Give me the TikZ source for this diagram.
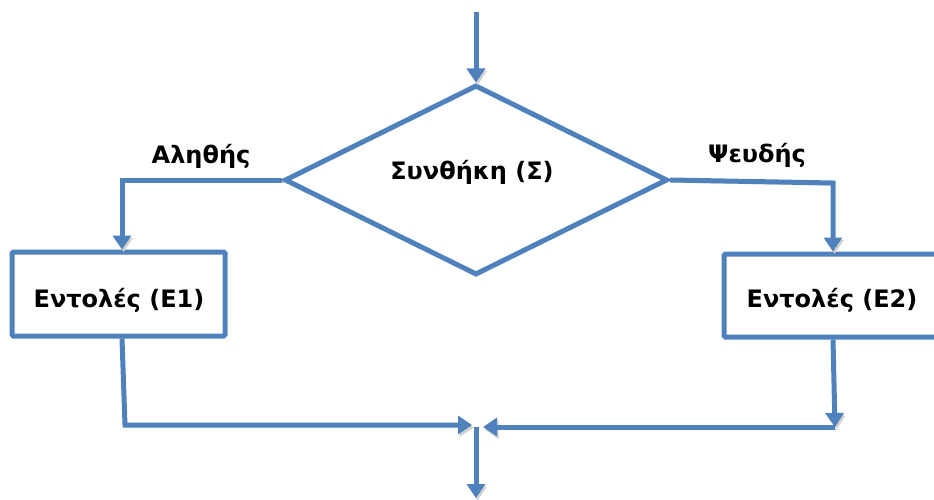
\documentclass[tikz,border=0pt]{standalone}
\usepackage{fontspec}
\setmainfont{DejaVu Sans}
\usetikzlibrary{arrows.meta,shapes.geometric}
\definecolor{fcblue}{HTML}{4F81BD}
\tikzset{
  shade/.style={preaction={draw=black!18, transform canvas={shift={(1.5pt,-2.5pt)}}}},
  conn/.style={draw=fcblue, line width=5pt, -{Triangle[length=14pt,width=18pt]}, shade},
  stepbox/.style={draw=fcblue, line width=5pt, rounded corners=1.5pt, fill=white, inner sep=0pt},
  lbl/.style={font=\fontsize{24}{27}\selectfont\bfseries, text=black, inner sep=0pt},
}
\begin{document}
\begin{tikzpicture}[x=1pt,y=-1pt]
\useasboundingbox (0,0) rectangle (934,500);
\clip (0,0) rectangle (934,500);
% coordinates
\coordinate (start) at (476,12);
\coordinate (lcorner) at (122,180);
\coordinate (rcorner) at (833,183);
\coordinate (lbot) at (125,425);
\coordinate (rbot) at (835,427);
\coordinate (mergeL) at (472,425);
\coordinate (mergeR) at (483,427);
\coordinate (mergeC) at (476,427);
\coordinate (finish) at (476,498);
% diamond
\node[draw=fcblue, line width=5pt, diamond, shape aspect=2.016, minimum width=383pt, minimum height=190pt, inner sep=0pt, fill=white] (cond) at (476,180) {};
% boxes
\node[stepbox, minimum width=213pt, minimum height=84pt] (e1) at (118.5,294) {};
\node[stepbox, minimum width=230pt, minimum height=83pt] (e2) at (839,295.5) {};
% connectors
\draw[conn] (start) -- (cond.north);
\draw[conn] (cond.west) -- (lcorner) -- (lcorner |- e1.north);
\draw[conn] (cond.east) -- (rcorner) -- (rcorner |- e2.north);
\draw[conn] (e1.south -| 122,0) -- (lbot) -- (mergeL);
\draw[conn] (e2.south -| 833,0) -- (rbot);
\draw[conn] (rbot) -- (mergeR);
\draw[conn] (mergeC) -- (finish);
% texts
\node[lbl] (condtext) at (472,172) {Συνθήκη (Σ)};
\node[lbl] (e1text) at (119,300) {Εντολές (Ε1)};
\node[lbl] (e2text) at (832,300) {Εντολές (Ε2)};
\node[lbl] (yes) at (201,156) {Αληθής};
\node[lbl] (no) at (757,155) {Ψευδής};
\end{tikzpicture}
\end{document}
